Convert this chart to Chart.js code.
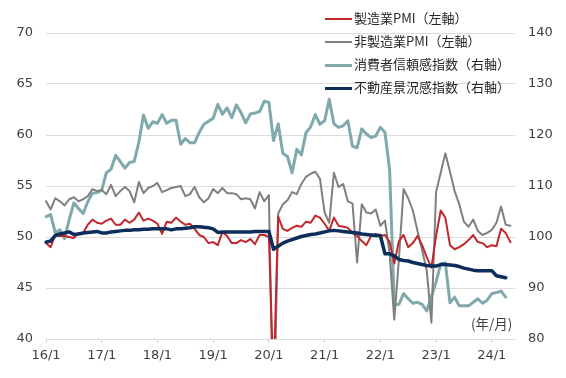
<!DOCTYPE html>
<html>
<head>
<meta charset="utf-8">
<script src="https://cdn.jsdelivr.net/npm/chart.js@4.4.1/dist/chart.umd.min.js"></script>
<style>
  html, body { margin: 0; padding: 0; background: #ffffff; }
  #wrap { position: relative; width: 566px; height: 378px; overflow: hidden; }
  #c { position: absolute; left: 0; top: 0; }
  .lg { position: absolute; left: 325px; height: 20px; font-family: "Noto Sans CJK JP", sans-serif; font-size: 13px; color: #262626; white-space: nowrap; line-height: 20px; }
  .lg span.ln { display: inline-block; width: 27px; vertical-align: middle; margin-right: 2px; }
  #unit { position: absolute; left: 471px; top: 313px; font-family: "Noto Sans CJK JP", sans-serif; font-size: 13.5px; color: #404040; }
</style>
</head>
<body>
<div id="wrap">
  <canvas id="c" width="566" height="378"></canvas>
  <div id="legend"></div>
  <div id="unit">(年/月)</div>
</div>
<script>
// ---- categories (monthly, 2016/1 - 2024/6 axis span) ----
const categories = [];
for (let y = 16; y <= 24; y++) {
  for (let m = 1; m <= 12; m++) {
    if (y === 24 && m > 6) break;
    categories.push(y + '/' + m);
  }
}
const tickLabels = ['16/1','17/1','18/1','19/1','20/1','21/1','22/1','23/1','24/1'];

const seriesNames = ['製造業PMI（左軸）','非製造業PMI（左軸）','消費者信頼感指数（右軸）','不動産景況感指数（右軸）'];

// 製造業PMI（左軸）
const manufacturingPMI = [
  49.4, 49.0, 50.2, 50.1, 50.1, 50.0, 49.9, 50.4, 50.4, 51.2, 51.7, 51.4,
  51.3, 51.6, 51.8, 51.2, 51.2, 51.7, 51.4, 51.7, 52.4, 51.6, 51.8, 51.6,
  51.3, 50.3, 51.5, 51.4, 51.9, 51.5, 51.2, 51.3, 50.8, 50.2, 50.0, 49.4,
  49.5, 49.2, 50.5, 50.1, 49.4, 49.4, 49.7, 49.5, 49.8, 49.3, 50.2, 50.2,
  50.0, 35.7, 52.0, 50.8, 50.6, 50.9, 51.1, 51.0, 51.5, 51.4, 52.1, 51.9,
  51.3, 50.6, 51.9, 51.1, 51.0, 50.9, 50.4, 50.1, 49.6, 49.2, 50.1, 50.3,
  50.1, 50.2, 49.5, 47.4, 49.6, 50.2, 49.0, 49.4, 50.1, 49.2, 48.0, 47.0,
  50.1, 52.6, 51.9, 49.2, 48.8, 49.0, 49.3, 49.7, 50.2, 49.5, 49.4, 49.0,
  49.2, 49.1, 50.8, 50.4, 49.5
];

// 非製造業PMI（左軸）
const nonManufacturingPMI = [
  53.5, 52.7, 53.8, 53.5, 53.1, 53.7, 53.9, 53.5, 53.7, 54.0, 54.7, 54.5,
  54.6, 54.2, 55.1, 54.0, 54.5, 54.9, 54.5, 53.4, 55.4, 54.3, 54.8, 55.0,
  55.3, 54.4, 54.6, 54.8, 54.9, 55.0, 54.0, 54.2, 54.9, 53.9, 53.4, 53.8,
  54.7, 54.3, 54.8, 54.3, 54.3, 54.2, 53.7, 53.8, 53.7, 52.8, 54.4, 53.5,
  54.1, 29.6, 52.3, 53.2, 53.6, 54.4, 54.2, 55.2, 55.9, 56.2, 56.4, 55.7,
  52.4, 51.4, 56.3, 54.9, 55.2, 53.5, 53.3, 47.5, 53.2, 52.4, 52.3, 52.7,
  51.1, 51.6, 48.4, 41.9, 47.8, 54.7, 53.8, 52.6, 50.6, 48.7, 46.7, 41.6,
  54.4, 56.3, 58.2, 56.4, 54.5, 53.2, 51.5, 51.0, 51.7, 50.6, 50.2, 50.4,
  50.7, 51.4, 53.0, 51.2, 51.1
];

// 消費者信頼感指数（右軸）
const consumerConfidence = [
  104.0, 104.4, 100.8, 101.4, 99.7, 103.4, 106.7, 105.6, 104.6, 106.9, 108.6, 108.7,
  109.2, 112.6, 113.3, 116.0, 114.8, 113.5, 114.6, 114.8, 118.6, 123.9, 121.3, 122.6,
  122.3, 124.0, 122.3, 122.9, 122.9, 118.2, 119.3, 118.5, 118.5, 120.5, 122.1, 122.7,
  123.3, 126.0, 124.1, 125.3, 123.4, 125.9, 124.4, 122.4, 124.1, 124.3, 124.6, 126.6,
  126.4, 118.9, 122.2, 116.4, 115.8, 112.6, 117.2, 116.1, 120.5, 121.6, 124.0, 122.1,
  122.8, 127.0, 122.2, 121.5, 121.8, 122.8, 117.8, 117.5, 121.2, 120.2, 119.5, 119.8,
  121.5, 120.5, 113.2, 86.7, 86.8, 88.9, 87.9, 87.0, 87.2, 86.8, 85.5, 88.3,
  91.2, 94.7, 94.9, 87.1, 88.2, 86.5, 86.5, 86.5, 87.2, 87.9, 87.0, 87.6,
  88.9, 89.1, 89.4, 88.2
];

// 不動産景況感指数（右軸）
const realEstateIndex = [
  99.0, 99.2, 100.3, 100.6, 100.8, 101.0, 100.5, 100.6, 100.8, 100.9, 101.0, 101.1,
  100.8, 100.8, 101.0, 101.1, 101.2, 101.3, 101.3, 101.4, 101.4, 101.5, 101.5, 101.6,
  101.6, 101.6, 101.6, 101.4, 101.6, 101.6, 101.7, 101.8, 102.0, 102.0, 101.9, 101.8,
  101.6, 100.9, 101.0, 101.0, 101.0, 101.0, 101.0, 101.0, 101.0, 101.1, 101.1, 101.1,
  101.1, 97.6, 98.2, 98.8, 99.2, 99.5, 99.8, 100.1, 100.3, 100.5, 100.6, 100.8,
  101.0, 101.2, 101.3, 101.2, 101.1, 101.0, 100.9, 100.8, 100.6, 100.5, 100.4, 100.3,
  100.3, 96.7, 96.7, 96.3, 95.6, 95.4, 95.3, 95.0, 94.8, 94.6, 94.4, 94.3,
  94.3, 94.6, 94.6, 94.5, 94.4, 94.2, 93.9, 93.7, 93.5, 93.4, 93.4, 93.4,
  93.4, 92.4, 92.2, 92.0
];

const seriesColors = ['#C0282D', '#7F7F7F', '#7FA9AB', '#0D2D5A'];
const seriesWidths = [2, 2, 3, 3.5];

// ---- HTML legend ----
const legendTops = [8, 31, 54, 77];
const legendEl = document.getElementById('legend');
seriesNames.forEach((n, i) => {
  const d = document.createElement('div');
  d.className = 'lg';
  d.style.top = legendTops[i] + 'px';
  const ln = document.createElement('span');
  ln.className = 'ln';
  ln.style.borderTop = seriesWidths[i] + 'px solid ' + seriesColors[i];
  d.appendChild(ln);
  d.appendChild(document.createTextNode(n));
  legendEl.appendChild(d);
});

const tickFont = { family: 'DejaVu Sans', size: 13 };
const tickColor = '#404040';

new Chart(document.getElementById('c'), {
  type: 'line',
  data: {
    labels: categories,
    datasets: [
      { label: seriesNames[0], data: manufacturingPMI, yAxisID: 'yL', borderColor: seriesColors[0], borderWidth: seriesWidths[0], order: 2 },
      { label: seriesNames[1], data: nonManufacturingPMI, yAxisID: 'yL', borderColor: seriesColors[1], borderWidth: seriesWidths[1], order: 3 },
      { label: seriesNames[2], data: consumerConfidence, yAxisID: 'yR', borderColor: seriesColors[2], borderWidth: seriesWidths[2], order: 4 },
      { label: seriesNames[3], data: realEstateIndex, yAxisID: 'yR', borderColor: seriesColors[3], borderWidth: seriesWidths[3], order: 1 }
    ]
  },
  options: {
    responsive: false,
    animation: false,
    layout: { padding: { top: 33, left: 0, right: 0, bottom: 0 } },
    elements: { point: { radius: 0 }, line: { tension: 0, borderJoinStyle: 'round', borderCapStyle: 'round' } },
    plugins: { legend: { display: false }, tooltip: { enabled: false } },
    scales: {
      x: {
        type: 'category',
        offset: false,
        grid: { display: true, drawOnChartArea: false, drawTicks: true, tickLength: 4, color: '#D0D0D0' },
        border: { display: false },
        ticks: {
          autoSkip: false, maxRotation: 0, minRotation: 0, padding: 5,
          font: tickFont, color: tickColor,
          callback: function (v, i) { const l = categories[i]; return tickLabels.includes(l) ? l : null; }
        },
        afterFit: s => { s.height = 39; }
      },
      yL: {
        position: 'left', min: 40, max: 70,
        grid: { color: '#DCDCDC', lineWidth: 1, drawTicks: false },
        border: { display: false },
        ticks: { stepSize: 5, padding: 13, font: tickFont, color: tickColor },
        afterFit: s => { s.width = 46; }
      },
      yR: {
        position: 'right', min: 80, max: 140,
        grid: { drawOnChartArea: false, drawTicks: false },
        border: { display: false },
        ticks: { stepSize: 10, padding: 13, font: tickFont, color: tickColor },
        afterFit: s => { s.width = 51; }
      }
    }
  }
});
</script>
</body>
</html>
